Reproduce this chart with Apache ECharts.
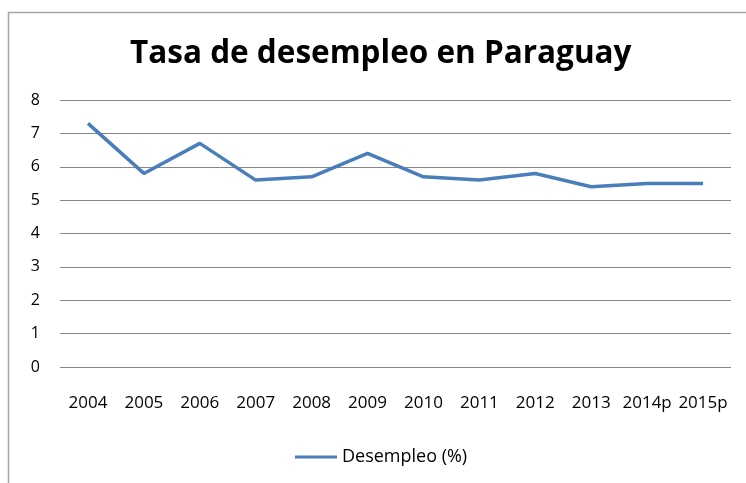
<!DOCTYPE html>
<html>
<head>
<meta charset="utf-8">
<script src="https://cdn.jsdelivr.net/npm/echarts@6/dist/echarts.min.js"></script>
<style>
  html, body { margin: 0; padding: 0; background: #fff; }
  #chart { width: 746px; height: 483px; }
</style>
</head>
<body>
<div id="chart"></div>
<script>
// datos
const years = ['2004', '2005', '2006', '2007', '2008', '2009', '2010', '2011', '2012', '2013', '2014p', '2015p'];
const desempleo = [7.3, 5.8, 6.7, 5.6, 5.7, 6.4, 5.7, 5.6, 5.8, 5.4, 5.5, 5.5];
const yTicks = [0, 1, 2, 3, 4, 5, 6, 7, 8];

const font = '"Open Sans", sans-serif';

const chart = echarts.init(document.getElementById('chart'));
chart.setOption({
  backgroundColor: '#fff',
  animation: false,
  title: {
    text: 'Tasa de desempleo en Paraguay',
    left: 125,
    top: 33,
    textStyle: { fontFamily: font, fontSize: 31.5, fontWeight: 'bold', color: '#000' }
  },
  graphic: [{
    type: 'rect',
    shape: { x: 8.5, y: 12.5, width: 800, height: 600 },
    style: { fill: 'none', stroke: '#a6a6a6', lineWidth: 1.5 },
    silent: true
  }],
  legend: {
    bottom: 12,
    left: 290,
    itemWidth: 42,
    itemHeight: 3,
    itemGap: 5,
    icon: 'rect',
    textStyle: { fontFamily: font, fontSize: 18, color: '#000' },
    data: ['Desempleo (%)']
  },
  grid: { left: 60, right: 15, top: 100, bottom: 116 },
  xAxis: {
    type: 'category',
    data: years,
    boundaryGap: true,
    axisLine: { show: false },
    axisTick: { show: false },
    axisLabel: { margin: 28, fontFamily: font, fontSize: 17, color: '#000', interval: 0 }
  },
  yAxis: {
    type: 'value',
    min: yTicks[0],
    max: yTicks[yTicks.length - 1],
    interval: 1,
    axisLine: { show: false },
    axisTick: { show: false },
    axisLabel: { margin: 20, fontFamily: font, fontSize: 16, color: '#000' },
    splitLine: { lineStyle: { color: '#868686', width: 1.2 } }
  },
  series: [{
    name: 'Desempleo (%)',
    type: 'line',
    data: desempleo,
    symbol: 'none',
    lineStyle: { color: '#4a7ebb', width: 3.5 },
    itemStyle: { color: '#4a7ebb' }
  }]
});
</script>
</body>
</html>
